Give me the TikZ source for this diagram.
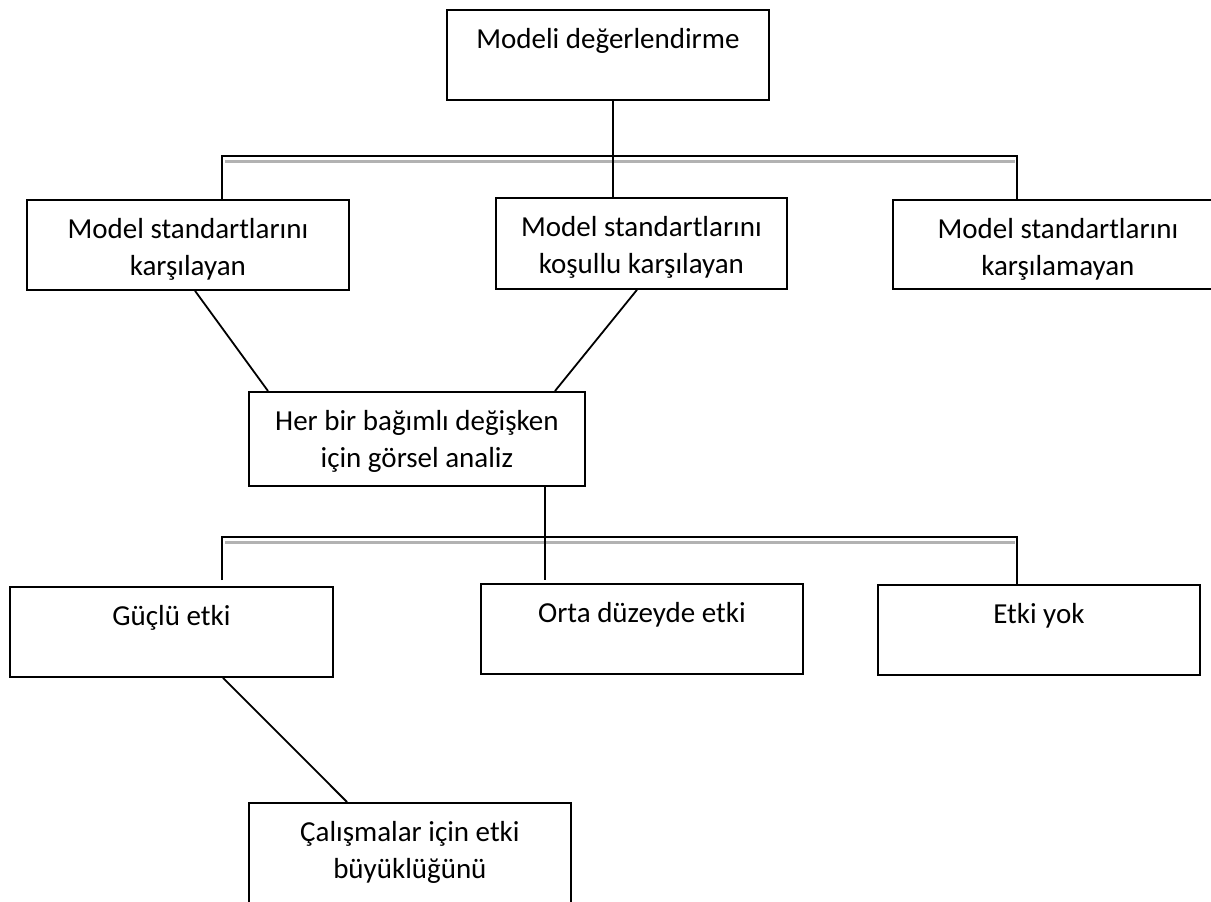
\documentclass[tikz,border=0pt]{standalone}
\usepackage{fontspec}
\setmainfont{Carlito}
\begin{document}
\begin{tikzpicture}[x=1pt,y=-1pt,
  box/.style={draw, line width=1.8pt, inner sep=0pt, anchor=north west},
  lbl/.style={font=\fontsize{29}{37}\selectfont, align=center, anchor=north, inner sep=0pt},
  conn/.style={line width=1.8pt},
  shadow line/.style={line width=3pt, draw=black!30}]
\useasboundingbox (0,0) rectangle (1211,902);
\clip (0,0) rectangle (1211,902);
% boxes
\node[box, minimum width=322, minimum height=90] (A) at (446,9) {};
\node[box, minimum width=322, minimum height=90] (B1) at (26,199) {};
\node[box, minimum width=291, minimum height=91] (B2) at (495,197) {};
\node[box, minimum width=330, minimum height=89] (B3) at (892,199) {};
\node[box, minimum width=336, minimum height=94] (C) at (248,391) {};
\node[box, minimum width=323, minimum height=90] (D1) at (9,586) {};
\node[box, minimum width=322, minimum height=90] (D2) at (480,583) {};
\node[box, minimum width=322, minimum height=90] (D3) at (877,584) {};
\node[box, minimum width=322, minimum height=120] (E) at (248,802) {};
% texts
\node[lbl] (tA) at ([yshift=-13pt]A.north) {\strut Modeli değerlendirme};
\node[lbl] (tB1) at ([yshift=-13pt]B1.north) {\strut Model standartlarını\\\strut karşılayan};
\node[lbl] (tB2) at ([yshift=-13pt]B2.north) {\strut Model standartlarını\\\strut koşullu karşılayan};
\node[lbl] (tB3) at ([yshift=-13pt]B3.north) {\strut Model standartlarını\\\strut karşılamayan};
\node[lbl] (tC) at ([yshift=-13pt]C.north) {\strut Her bir bağımlı değişken\\\strut için görsel analiz};
\node[lbl] (tD1) at ([yshift=-13pt]D1.north) {\strut Güçlü etki};
\node[lbl] (tD2) at ([yshift=-13pt]D2.north) {\strut Orta düzeyde etki};
\node[lbl] (tD3) at ([yshift=-13pt]D3.north) {\strut Etki yok};
\node[lbl] (tE) at ([yshift=-13pt]E.north) {\strut Çalışmalar için etki\\\strut büyüklüğünü};
% bar 1
\coordinate (b1l) at (222,156);
\coordinate (b1m) at (613,156);
\coordinate (b1r) at (1017,156);
\draw[shadow line] (225,161.5) -- (1015,161.5);
\draw[conn] (b1l |- B1.north) -- (b1l) -- (b1r) -- (b1r |- B3.north);
\draw[conn] (b1m |- A.south) -- (b1m |- B2.north);
% diagonals to C
\draw[conn] ([xshift=169pt]B1.south west) -- ([xshift=20pt]C.north west);
\draw[conn] ([xshift=142pt]B2.south west) -- ([xshift=307pt]C.north west);
% bar 2
\coordinate (b2l) at (222,537);
\coordinate (b2m) at (545,537);
\coordinate (b2r) at (1017,537);
\coordinate (e2l) at (222,580);
\coordinate (e2m) at (545,580);
\draw[shadow line] (225,542) -- (1015,542);
\draw[conn] (e2l) -- (b2l) -- (b2r) -- (b2r |- D3.north);
\draw[conn] (b2m |- C.south) -- (e2m);
% diagonal to E
\draw[conn] ([xshift=214pt]D1.south west) -- ([xshift=99pt]E.north west);
\end{tikzpicture}
\end{document}
